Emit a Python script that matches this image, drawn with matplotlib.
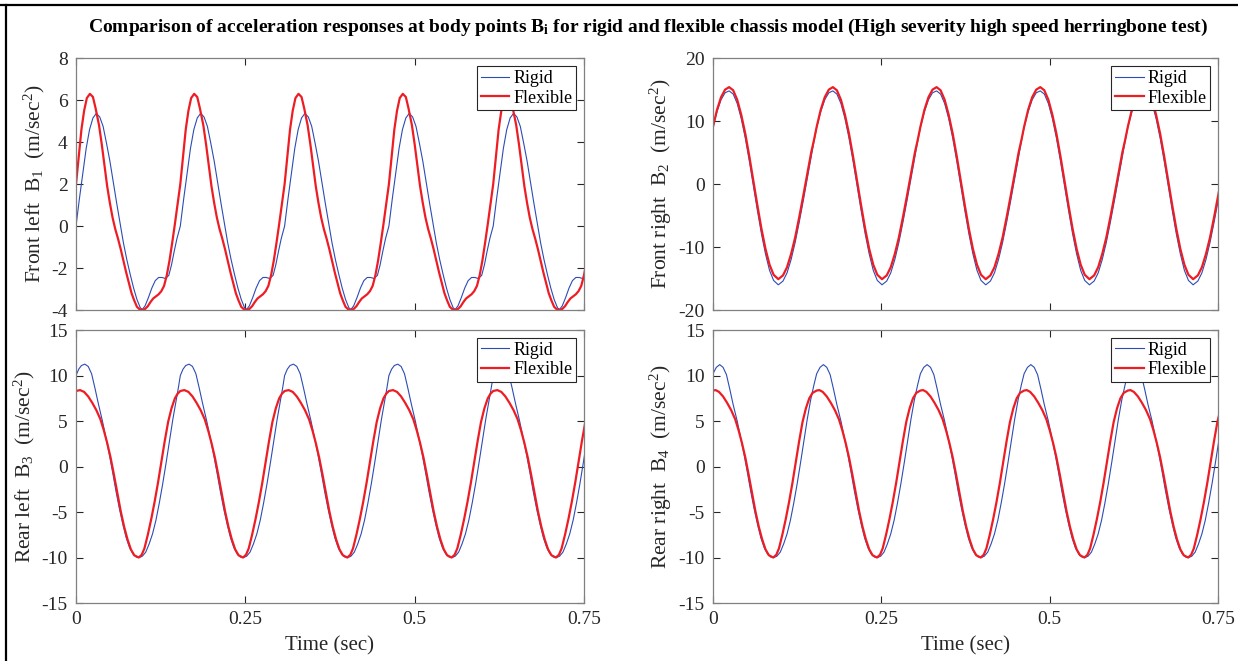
import matplotlib.pyplot as plt
import numpy as np
from matplotlib.lines import Line2D

plt.rcParams['font.family'] = ['Liberation Serif', 'DejaVu Serif']
plt.rcParams['mathtext.fontset'] = 'custom'
plt.rcParams['mathtext.rm'] = 'Liberation Serif'
plt.rcParams['mathtext.bf'] = 'Liberation Serif:bold'
plt.rcParams['axes.unicode_minus'] = False

# one period of each signal (time in s, value in m/s^2)
period = 0.154
n_cycles = 5

# front left B1
fl_t_rigid = [0.000, 0.005, 0.010, 0.015, 0.020, 0.025, 0.030, 0.035, 0.040, 0.045,
              0.050, 0.055, 0.060, 0.065, 0.070, 0.075, 0.080, 0.085, 0.090, 0.095,
              0.098, 0.102, 0.107, 0.112, 0.117, 0.122, 0.127, 0.132, 0.137, 0.141,
              0.145, 0.149]
fl_rigid = [0.0, 1.3, 2.5, 3.7, 4.6, 5.15, 5.37, 5.2, 4.75, 3.95,
            3.1, 2.1, 1.1, 0.15, -0.8, -1.6, -2.3, -2.95, -3.5, -3.9,
            -3.97, -3.8, -3.4, -2.95, -2.6, -2.45, -2.45, -2.5, -2.35, -1.85,
            -1.2, -0.6]
fl_t_flex = [0.000, 0.004, 0.008, 0.012, 0.016, 0.0205, 0.025, 0.029, 0.034, 0.038,
             0.042, 0.046, 0.050, 0.054, 0.058, 0.062, 0.066, 0.070, 0.074, 0.078,
             0.082, 0.086, 0.090, 0.094, 0.098, 0.102, 0.106, 0.110, 0.114, 0.118,
             0.122, 0.126, 0.130, 0.134, 0.138, 0.142, 0.146, 0.150]
fl_flex = [2.0, 3.3, 4.6, 5.5, 6.1, 6.3, 6.15, 5.6, 4.8, 3.9,
           2.9, 1.9, 1.1, 0.4, -0.15, -0.6, -1.1, -1.65, -2.2, -2.7,
           -3.2, -3.55, -3.85, -3.97, -4.0, -3.95, -3.82, -3.62, -3.45, -3.35,
           -3.25, -3.1, -2.85, -2.35, -1.65, -0.8, 0.1, 1.05]

# front right B2
fr_t = [0.000, 0.006, 0.012, 0.018, 0.024, 0.030, 0.036, 0.042, 0.048, 0.054,
        0.060, 0.066, 0.072, 0.078, 0.084, 0.090, 0.097, 0.104, 0.110, 0.116,
        0.122, 0.128, 0.134, 0.140, 0.146, 0.150]
fr_rigid = [9.0, 11.5, 13.4, 14.5, 14.8, 14.3, 12.8, 10.4, 7.3, 3.65,
            -0.26, -4.2, -7.9, -11.1, -13.7, -15.3, -16.0, -15.4, -14.1, -12.0,
            -9.3, -6.1, -2.7, 0.9, 4.4, 6.8]
fr_flex = [9.1, 11.8, 13.8, 15.0, 15.4, 14.9, 13.4, 11.0, 8.0, 4.4,
           0.5, -3.4, -7.1, -10.3, -12.8, -14.4, -15.1, -14.5, -13.2, -11.1,
           -8.5, -5.3, -1.9, 1.6, 5.1, 7.0]

# rear left B3
rl_t_rigid = [0.000, 0.004, 0.008, 0.013, 0.018, 0.023, 0.028, 0.033, 0.039, 0.044,
              0.049, 0.054, 0.059, 0.064, 0.069, 0.074, 0.079, 0.084, 0.089, 0.0935,
              0.098, 0.103, 0.108, 0.113, 0.118, 0.123, 0.128, 0.133, 0.138, 0.143,
              0.148, 0.151]
rl_rigid = [10.0, 10.7, 11.1, 11.25, 11.0, 10.2, 8.6, 6.9, 5.0, 3.2,
            1.4, -0.6, -2.7, -4.6, -6.3, -7.8, -8.9, -9.6, -9.95, -10.0,
            -9.85, -9.4, -8.5, -7.4, -5.9, -4.0, -1.9, 0.4, 2.8, 5.2,
            7.3, 8.6]
rl_t_flex = [0.000, 0.006, 0.012, 0.018, 0.024, 0.030, 0.036, 0.041, 0.046, 0.051,
             0.056, 0.061, 0.066, 0.071, 0.076, 0.081, 0.086, 0.0925, 0.097, 0.101,
             0.106, 0.111, 0.116, 0.121, 0.126, 0.131, 0.136, 0.141, 0.146, 0.150]
rl_flex = [8.3, 8.4, 8.2, 7.7, 7.0, 6.2, 5.2, 4.0, 2.6, 1.0,
           -0.9, -2.9, -4.9, -6.6, -8.0, -9.1, -9.75, -10.0, -9.7, -9.0,
           -7.5, -5.8, -3.9, -1.8, 0.5, 2.8, 4.9, 6.4, 7.5, 8.0]

# rear right B4
rr_t_rigid = [0.000, 0.005, 0.010, 0.015, 0.020, 0.025, 0.030, 0.036, 0.041, 0.046,
              0.051, 0.056, 0.061, 0.066, 0.071, 0.076, 0.081, 0.086, 0.0905, 0.095,
              0.100, 0.105, 0.110, 0.115, 0.120, 0.125, 0.130, 0.135, 0.140, 0.145,
              0.150]
rr_rigid = [10.2, 10.9, 11.2, 10.9, 10.1, 8.5, 6.8, 5.0, 3.2, 1.4,
            -0.6, -2.7, -4.6, -6.3, -7.8, -8.9, -9.6, -9.95, -10.0, -9.85,
            -9.4, -8.5, -7.4, -5.9, -4.0, -1.9, 0.4, 2.8, 5.2, 7.3,
            9.0]
rr_t_flex = [0.000, 0.004, 0.009, 0.015, 0.021, 0.027, 0.033, 0.038, 0.043, 0.048,
             0.053, 0.058, 0.063, 0.068, 0.073, 0.078, 0.083, 0.0895, 0.094, 0.098,
             0.103, 0.108, 0.113, 0.118, 0.123, 0.128, 0.133, 0.138, 0.143, 0.148]
rr_flex = [8.35, 8.4, 8.2, 7.7, 7.0, 6.2, 5.2, 4.0, 2.6, 1.0,
           -0.9, -2.9, -4.9, -6.6, -8.0, -9.1, -9.75, -10.0, -9.7, -9.0,
           -7.5, -5.8, -3.9, -1.8, 0.5, 2.8, 4.9, 6.4, 7.5, 8.1]

x_ticks = [0, 0.25, 0.5, 0.75]
x_tick_labels = ['0', '0.25', '0.5', '0.75']


def repeat(t, v):
    t = np.asarray(t)
    tt = np.concatenate([t + k * period for k in range(n_cycles)])
    vv = np.tile(np.asarray(v), n_cycles)
    return tt, vv


blue = '#2c4cb4'
red = '#ee1d24'
grey = '#262626'

fig = plt.figure(figsize=(12.38, 6.61), dpi=100)

panels = [
    ([0.0614, 0.531, 0.4103, 0.381], fl_t_rigid, fl_rigid, fl_t_flex, fl_flex,
     (-4, 8), np.arange(-4, 9, 2), 'Front left  B$\\mathregular{_1}$  (m/sec$\\mathregular{^2}$)', False),
    ([0.5759, 0.531, 0.4080, 0.381], fr_t, fr_rigid, fr_t, fr_flex,
     (-20, 20), np.arange(-20, 21, 10), 'Front right  B$\\mathregular{_2}$  (m/sec$\\mathregular{^2}$)', False),
    ([0.0614, 0.0877, 0.4103, 0.413], rl_t_rigid, rl_rigid, rl_t_flex, rl_flex,
     (-15, 15), np.arange(-15, 16, 5), 'Rear left  B$\\mathregular{_3}$  (m/sec$\\mathregular{^2}$)', True),
    ([0.5759, 0.0877, 0.4080, 0.413], rr_t_rigid, rr_rigid, rr_t_flex, rr_flex,
     (-15, 15), np.arange(-15, 16, 5), 'Rear right  B$\\mathregular{_4}$  (m/sec$\\mathregular{^2}$)', True),
]

for rect, tr, vr, tf, vf, ylim, yticks, ylabel, bottom in panels:
    ax = fig.add_axes(rect)
    x1, y1 = repeat(tr, vr)
    x2, y2 = repeat(tf, vf)
    ax.plot(x1, y1, color=blue, linewidth=0.8, label='Rigid')
    ax.plot(x2, y2, color=red, linewidth=1.6, label='Flexible')
    ax.set_xlim(0, 0.75)
    ax.set_ylim(*ylim)
    ax.set_yticks(yticks)
    ax.set_xticks(x_ticks)
    if bottom:
        ax.set_xticklabels(x_tick_labels)
        ax.set_xlabel('Time (sec)', fontsize=15, color=grey, labelpad=6)
    else:
        ax.set_xticklabels([])
    ax.set_ylabel(ylabel, fontsize=15.5, color=grey, labelpad=3)
    ax.tick_params(direction='in', top=True, right=True, length=5, width=0.8,
                   labelsize=14, colors=grey, pad=6)
    for s in ax.spines.values():
        s.set_color('#808080')
        s.set_linewidth(0.9)
    leg = ax.legend(loc='upper right', fontsize=13, fancybox=False, framealpha=1,
                    borderaxespad=0.45, borderpad=0.2, handlelength=1.6,
                    handletextpad=0.2, labelspacing=0.15)
    leg.get_frame().set_edgecolor('#262626')
    leg.get_frame().set_linewidth(0.8)

fig.text(0.523, 0.958,
         'Comparison of acceleration responses at body points B$\\mathbf{_i}$ for rigid and flexible chassis model (High severity high speed herringbone test)',
         ha='center', va='center', fontsize=14, fontweight='bold')

# border lines (top and left) of the original figure frame
fig.add_artist(Line2D([0, 1], [0.9925, 0.9925], color='black', linewidth=1.6))
fig.add_artist(Line2D([0.0045, 0.0045], [0, 0.9925], color='black', linewidth=1.6))

fig.savefig('out.png', dpi=100)
